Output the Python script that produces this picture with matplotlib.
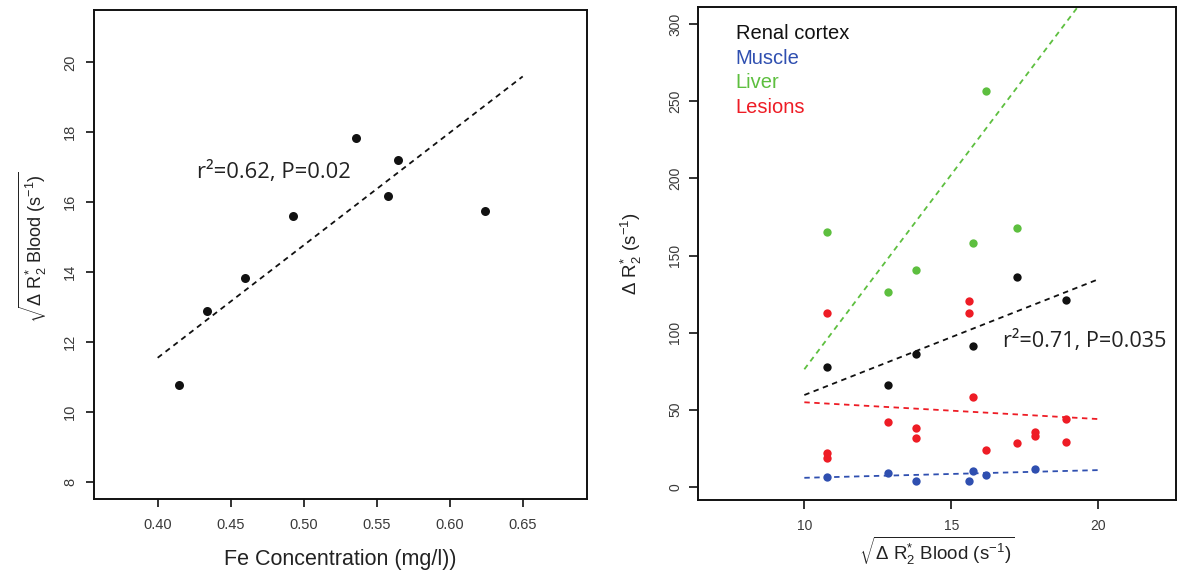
import matplotlib
matplotlib.use("Agg")
import matplotlib.pyplot as plt

plt.rcParams['font.family'] = ['Liberation Sans', 'DejaVu Sans']
plt.rcParams['mathtext.fontset'] = 'custom'
plt.rcParams['mathtext.rm'] = 'Liberation Sans'
plt.rcParams['mathtext.it'] = 'Liberation Sans:italic'
plt.rcParams['mathtext.bf'] = 'Liberation Sans:bold'
plt.rcParams['mathtext.sf'] = 'Liberation Sans'

# ---------------- data: left panel ----------------
fe_conc = [0.4148, 0.4338, 0.4598, 0.4927, 0.5356, 0.5644, 0.5577, 0.6244]
blood_sqrt = [10.77, 12.89, 13.82, 15.62, 17.85, 17.22, 16.17, 15.74]
fe_fit_x = [0.40, 0.65]
fe_fit_y = [11.55, 19.6]
left_xticks = [0.40, 0.45, 0.50, 0.55, 0.60, 0.65]
left_xticklabels = ["0.40", "0.45", "0.50", "0.55", "0.60", "0.65"]
left_yticks = [8, 10, 12, 14, 16, 18, 20]
left_annot = "r\u00b2=0.62, P=0.02"

# ---------------- data: right panel ----------------
renal_x = [10.76, 12.86, 13.80, 15.73, 17.22, 18.90]
renal_y = [77.9, 66.0, 86.1, 91.3, 136.2, 121.1]
muscle_x = [10.76, 12.86, 13.80, 15.61, 15.73, 16.18, 17.85]
muscle_y = [6.5, 9.1, 3.7, 3.7, 10.4, 7.6, 11.3]
liver_x = [10.76, 12.86, 13.80, 15.73, 16.19, 17.22]
liver_y = [165.2, 126.1, 140.4, 158.1, 256.9, 168.0]
lesion_x = [10.76, 10.76, 10.76, 12.86, 13.80, 13.80, 15.61, 15.61,
            15.73, 16.18, 17.22, 17.85, 17.85, 18.90, 18.90]
lesion_y = [112.5, 21.7, 18.4, 42.2, 37.9, 31.4, 120.5, 112.5,
            58.4, 23.8, 28.5, 35.7, 32.9, 43.9, 29.2]
fit_x = [10, 20]
renal_fit = [59.5, 134.6]
muscle_fit = [5.8, 10.8]
liver_fit = [76.2, 329.0]
lesion_fit = [54.8, 43.9]
right_xticks = [10, 15, 20]
right_yticks = [0, 50, 100, 150, 200, 250, 300]
legend_labels = ["Renal cortex", "Muscle", "Liver", "Lesions"]
right_annot = "r\u00b2=0.71, P=0.035"

BLACK = "#111111"
BLUE = "#2f4fb0"
GREEN = "#5dbf3f"
RED = "#ee1c25"
legend_colors = [BLACK, BLUE, GREEN, RED]
TICKCOL = "#3a3a3a"

fig = plt.figure(figsize=(11.84, 5.74), dpi=100)
ax1 = fig.add_axes([0.0794, 0.1301, 0.4161, 0.8524])
ax2 = fig.add_axes([0.5898, 0.1289, 0.4035, 0.8584])

dash = (0, (3, 2.5))

# ---- left ----
ax1.plot(fe_fit_x, fe_fit_y, color=BLACK, lw=1.3, linestyle=dash, zorder=2)
ax1.scatter(fe_conc, blood_sqrt, s=42, color=BLACK, zorder=3, linewidths=0)
ax1.set_xlim(0.3564, 0.6938)
ax1.set_ylim(7.50, 21.50)
ax1.set_xticks(left_xticks)
ax1.set_xticklabels(left_xticklabels)
ax1.set_yticks(left_yticks)
ax1.tick_params(axis='both', direction='out', length=6, width=1.2,
                colors=BLACK, labelcolor=TICKCOL, labelsize=10.5)
ax1.tick_params(axis='x', pad=7.5)
ax1.tick_params(axis='y', labelrotation=90, pad=6)
for lab in ax1.get_yticklabels():
    lab.set_va('center')
ax1.text(0.4267, 16.68, left_annot, fontsize=15.8, family='Open Sans',
         color="#222222", ha='left', va='baseline')

# ---- right ----
ax2.plot(fit_x, liver_fit, color=GREEN, lw=1.3, linestyle=dash, zorder=2)
ax2.plot(fit_x, renal_fit, color=BLACK, lw=1.3, linestyle=dash, zorder=2)
ax2.plot(fit_x, lesion_fit, color=RED, lw=1.3, linestyle=dash, zorder=2)
ax2.plot(fit_x, muscle_fit, color=BLUE, lw=1.3, linestyle=dash, zorder=2)
ax2.scatter(liver_x, liver_y, s=36, color=GREEN, zorder=3, linewidths=0)
ax2.scatter(renal_x, renal_y, s=36, color=BLACK, zorder=3, linewidths=0)
ax2.scatter(lesion_x, lesion_y, s=36, color=RED, zorder=3, linewidths=0)
ax2.scatter(muscle_x, muscle_y, s=36, color=BLUE, zorder=3, linewidths=0)
ax2.set_xlim(6.395, 22.64)
ax2.set_ylim(-8.6, 311.0)
ax2.set_xticks(right_xticks)
ax2.set_yticks(right_yticks)
ax2.tick_params(axis='both', direction='out', length=6.5, width=1.2,
                colors=BLACK, labelcolor=TICKCOL, labelsize=10)
ax2.tick_params(axis='x', pad=7.5)
ax2.tick_params(axis='y', labelrotation=90, pad=5)
for lab in ax2.get_yticklabels():
    lab.set_va('center')
ax2.text(16.75, 90.8, right_annot, fontsize=15.6, family='Open Sans',
         color="#222222", ha='left', va='baseline')

for i, (lab, col) in enumerate(zip(legend_labels, legend_colors)):
    ax2.text(0.0783, 0.9357 - i * 0.0501, lab, color=col, fontsize=14.5,
             transform=ax2.transAxes, ha='left', va='baseline')

for ax in (ax1, ax2):
    for sp in ax.spines.values():
        sp.set_linewidth(1.4)
        sp.set_color(BLACK)

# ---- axis labels ----
fig.text(340 / 1184, 1 - 565 / 574, "Fe Concentration (mg/l))", fontsize=15.5,
         color="#222222", ha='center', va='baseline')
fig.text(32.5 / 1184, 1 - 247.5 / 574,
         r'$\sqrt{\Delta\ \mathrm{R}_2^{*}\ \mathrm{Blood}\ (\mathrm{s}^{-1})}$',
         fontsize=13, color="#222222", rotation=90, ha='center', va='center')
fig.text(936.7 / 1184, 1 - 551 / 574,
         r'$\sqrt{\Delta\ \mathrm{R}_2^{*}\ \mathrm{Blood}\ (\mathrm{s}^{-1})}$',
         fontsize=13.5, color="#222222", ha='center', va='center')
fig.text(631.5 / 1184, 1 - 253.7 / 574,
         r'$\Delta\ \mathrm{R}_2^{*}\ (\mathrm{s}^{-1})$',
         fontsize=13.5, color="#222222", rotation=90, ha='center', va='center')

fig.savefig("out.png", dpi=100)
